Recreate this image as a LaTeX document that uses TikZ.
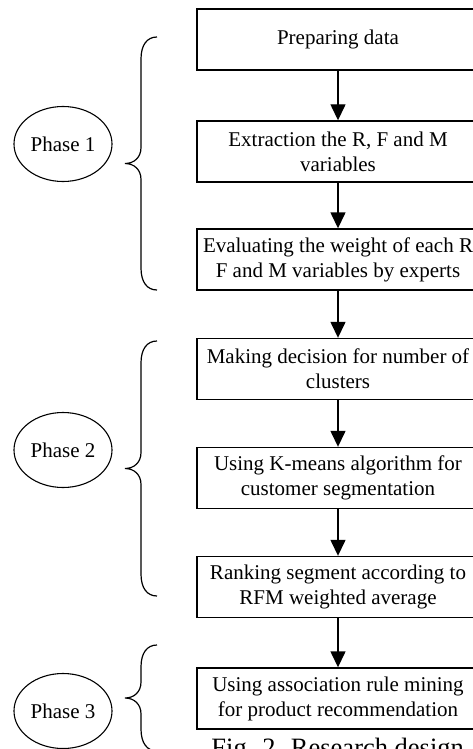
\documentclass[tikz,border=0pt]{standalone}
\usepackage{fontspec}
\setmainfont{Liberation Serif}
\usetikzlibrary{arrows.meta,shapes.geometric}

\begin{document}
\begin{tikzpicture}[x=1pt,y=-1pt,
  stepbox/.style = {draw=black, line width=1.4pt, minimum width=282pt, minimum height=61pt,
                    inner sep=0pt, align=center, font=\fontsize{21}{25}\selectfont},
  phase/.style = {draw=black, ellipse, line width=1.1pt, minimum width=98pt, minimum height=75pt,
                  inner sep=0pt, font=\fontsize{21}{25}\selectfont},
  flow/.style = {-{Triangle[length=16pt,width=15pt]}, line width=1.4pt},
  bracket/.style = {line width=1.2pt}]
\useasboundingbox (0,0) rectangle (473,749);
% the seven steps, top to bottom
\foreach \ypos/\txt [count=\i] in {39.5/{Preparing data},
    151.5/{Extraction the R, F and M\\variables},
    259.5/{Evaluating the weight of each R\\F and M variables by experts},
    369/{Making decision for number of\\clusters},
    478/{Using K-means algorithm for\\customer segmentation},
    587/{Ranking segment according to\\RFM weighted average},
    698.5/{Using association rule mining\\for product recommendation}}
    \node[stepbox] (step\i) at (338,\ypos) {\txt};
\foreach \i [evaluate=\i as \j using int(\i+1)] in {1,...,6}
    \draw[flow] (step\i) -- (step\j);
% phases and their braces
\node[phase] (phase1) at (63,144) {Phase 1};
\node[phase] (phase2) at (63,450) {Phase 2};
\node[phase] (phase3) at (63,711) {Phase 3};
\foreach \top/\bot [evaluate=\top as \mid using (\top+\bot)/2] in {37/290, 341/596, 645/751}
    \draw[bracket] (157,\top) .. controls (147,\top) and (141,\top+8) .. (141,\top+22)
        -- (141,\mid-16) .. controls (141,\mid-6) and (134,\mid) .. (125,\mid)
        .. controls (134,\mid) and (141,\mid+6) .. (141,\mid+16)
        -- (141,\bot-22) .. controls (141,\bot-8) and (147,\bot) .. (157,\bot);
\node[anchor=base, font=\fontsize{26.5}{31}\selectfont] (caption) at (341,756.5) {Fig. 2. Research design.};
\end{tikzpicture}
\end{document}
